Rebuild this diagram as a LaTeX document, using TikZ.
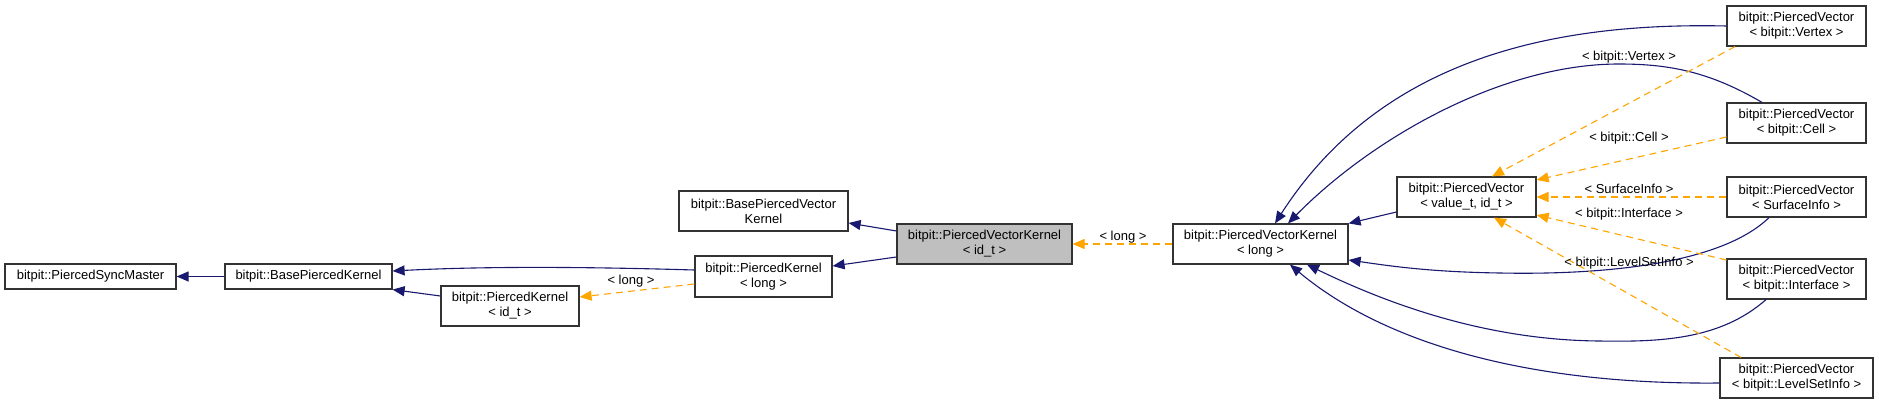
\documentclass[tikz,border=0pt]{standalone}
\usepackage{fontspec}
\setmainfont{Liberation Sans}
\usetikzlibrary{arrows.meta,calc}
\definecolor{edgeblue}{HTML}{191970}
\definecolor{edgeorange}{HTML}{FFA500}
\definecolor{boxgray}{HTML}{BFBFBF}
\tikzset{
  cls/.style={draw=black!80, line width=1.2pt, fill=white, inner sep=0pt, align=center,
    font=\fontsize{13}{15}\selectfont, minimum height=40pt},
  inh/.style={draw=edgeblue, line width=1.1pt, -{Triangle[length=12pt,width=10pt]}},
  tmpl/.style={draw=edgeorange, line width=1.1pt, dash pattern=on 7pt off 5pt,
    -{Triangle[length=12pt,width=10pt,fill=edgeorange]}},
  lbl/.style={font=\fontsize{13}{15}\selectfont, inner sep=0pt}
}
\begin{document}
\begin{tikzpicture}[x=1pt,y=-1pt]
\useasboundingbox[fill=white] (0,0) rectangle (1879,404);
% nodes
\node[cls, minimum width=171pt, minimum height=25pt] (PSM) at (90.5,276.5) {bitpit::PiercedSyncMaster};
\node[cls, minimum width=167pt, minimum height=25pt] (BPK) at (308.5,276.5) {bitpit::BasePiercedKernel};
\node[cls, minimum width=138pt] (PKid) at (510,306) {bitpit::PiercedKernel\\\textless{} id\_t \textgreater};
\node[cls, minimum width=169pt] (BPVK) at (763.5,211) {bitpit::BasePiercedVector\\Kernel};
\node[cls, minimum width=137pt, minimum height=41pt] (PKlong) at (763.5,276.5) {bitpit::PiercedKernel\\\textless{} long \textgreater};
\node[cls, minimum width=175pt, fill=boxgray] (PVKid) at (984.5,244) {bitpit::PiercedVectorKernel\\\textless{} id\_t \textgreater};
\node[cls, minimum width=175pt] (PVKlong) at (1260.5,244) {bitpit::PiercedVectorKernel\\\textless{} long \textgreater};
\node[cls, minimum width=139pt] (PVval) at (1466.5,197) {bitpit::PiercedVector\\\textless{} value\_t, id\_t \textgreater};
\node[cls, minimum width=139pt] (PVvertex) at (1796.5,26) {bitpit::PiercedVector\\\textless{} bitpit::Vertex \textgreater};
\node[cls, minimum width=139pt] (PVcell) at (1796.5,123) {bitpit::PiercedVector\\\textless{} bitpit::Cell \textgreater};
\node[cls, minimum width=139pt] (PVsurf) at (1796.5,197) {bitpit::PiercedVector\\\textless{} SurfaceInfo \textgreater};
\node[cls, minimum width=139pt] (PVinter) at (1796.5,279) {bitpit::PiercedVector\\\textless{} bitpit::Interface \textgreater};
\node[cls, minimum width=153pt] (PVlevel) at (1796.5,378) {bitpit::PiercedVector\\\textless{} bitpit::LevelSetInfo \textgreater};
% inheritance edges
\draw[inh] (BPK.west) -- (PSM.east);
\draw[inh] ($(PKid.west)+(0,-10)$) -- (BPK.south east);
\draw[inh] ($(PKlong.west)+(0,-6.5)$) .. controls (560,266) and (470,267) .. ($(BPK.east)+(0,-5.5)$);
\draw[inh] ($(PVKid.west)+(0,-13)$) -- ($(BPVK.east)+(0,12)$);
\draw[inh] ($(PVKid.west)+(0,13)$) -- ($(PKlong.east)+(0,-10.5)$);
\draw[inh] ($(PVval.west)+(0,15)$) -- (PVKlong.north east);
\draw[inh] (PVvertex.west) .. controls (1550,22) and (1380,60) .. ($(PVKlong.north)+(14.5,0)$);
\draw[inh] ($(PVcell.north)+(-34.5,0)$) .. controls (1710,72) and (1670,64) .. (1619,64)
  .. controls (1500,64) and (1370,140) .. ($(PVKlong.north)+(27.5,0)$);
\draw[inh] ($(PVsurf.south)+(-27.5,0)$) .. controls (1720,265) and (1600,275) .. (1500,273)
  .. controls (1430,272) and (1390,266) .. ($(PVKlong.east)+(0,16)$);
\draw[inh] ($(PVinter.south)+(-30.5,0)$) .. controls (1720,340) and (1660,342) .. (1599,341)
  .. controls (1480,340) and (1380,300) .. ($(PVKlong.south)+(46.5,0)$);
\draw[inh] ($(PVlevel.west)+(0,5)$) .. controls (1520,385) and (1380,340) .. ($(PVKlong.south)+(29.5,0)$);
% template edges
\draw[tmpl] ($(PKlong.west)+(0,7.5)$) -- ($(PKid.east)+(0,-9)$);
\draw[tmpl] (PVKlong.west) -- (PVKid.east);
\draw[tmpl] ($(PVvertex.south)+(-61.5,0)$) -- ($(PVval.north)+(25.5,0)$);
\draw[tmpl] ($(PVcell.west)+(0,14)$) -- ($(PVval.east)+(0,-17)$);
\draw[tmpl] (PVsurf.west) -- (PVval.east);
\draw[tmpl] ($(PVinter.west)+(0,-19)$) -- ($(PVval.east)+(0,18)$);
\draw[tmpl] ($(PVlevel.north)+(-55.5,0)$) -- ($(PVval.south)+(27.5,0)$);
% labels
\node[lbl] (l1) at (631,281) {\textless{} long \textgreater};
\node[lbl] (l2) at (1123,237) {\textless{} long \textgreater};
\node[lbl] (l3) at (1629,57) {\textless{} bitpit::Vertex \textgreater};
\node[lbl] (l4) at (1629,138) {\textless{} bitpit::Cell \textgreater};
\node[lbl] (l5) at (1629,189) {\textless{} SurfaceInfo \textgreater};
\node[lbl] (l6) at (1629,214) {\textless{} bitpit::Interface \textgreater};
\node[lbl] (l7) at (1629,263) {\textless{} bitpit::LevelSetInfo \textgreater};
\end{tikzpicture}
\end{document}
